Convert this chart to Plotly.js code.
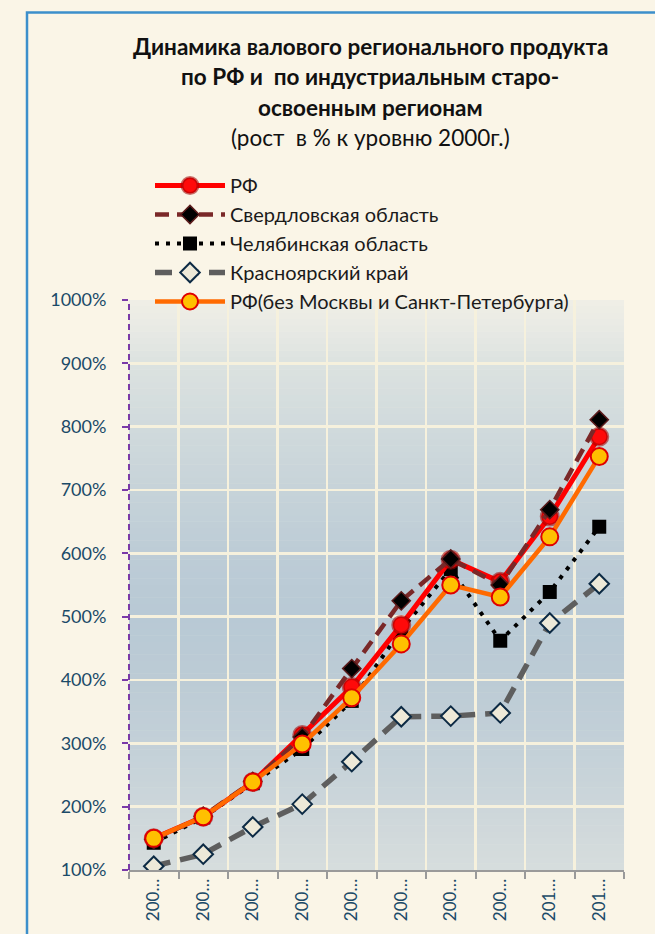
<!DOCTYPE html>
<html>
<head>
<meta charset="utf-8">
<script src="https://cdn.plot.ly/plotly-3.0.1.min.js"></script>
<style>
html,body{margin:0;padding:0;background:#FAF5E7;}
#chart{width:655px;height:934px;}
</style>
</head>
<body>
<div id="chart"></div>
<script>
// ---- data ----
const years = ['2002','2003','2004','2005','2006','2007','2008','2009','2010','2011'];
const tickLabels = ['200…','200…','200…','200…','200…','200…','200…','200…','201…','201…'];
const rf      = [150, 184, 239, 313, 389, 487, 590, 555, 658, 784];
const sverd   = [148, 185, 240, 310, 418, 525, 591, 550, 669, 811];
const chel    = [143, 183, 237, 291, 367, 479, 575, 462, 539, 642];
const krasn   = [106, 125, 168, 204, 271, 342, 343, 348, 490, 552];
const rfNoMsk = [150, 184, 239, 299, 372, 457, 550, 531, 626, 753];
const names = ['РФ','Свердловская область','Челябинская область','Красноярский край','РФ(без Москвы и Санкт-Петербурга)'];
const titleLines = ['<b>Динамика валового регионального продукта</b>','<b>по РФ и  по индустриальным старо-</b>','<b>освоенным регионам</b>','(рост  в % к уровню 2000г.)'];

const FONT = 'Lato, "Noto Sans", sans-serif';
const TEAL = '#1B4A68';

const traces = [
  {x: years, y: krasn, name: names[3], legendrank: 4, mode: 'lines+markers',
   line: {color: '#5E5E5E', width: 5.5, dash: '17px,10px'},
   marker: {symbol: 'diamond', size: 15, color: '#EDE9D8', line: {color: '#0C2A44', width: 2}}},
  {x: years, y: chel, name: names[2], legendrank: 3, mode: 'lines+markers',
   line: {color: '#000000', width: 4, dash: '4px,7px'},
   marker: {symbol: 'square', size: 14, color: '#000000'}},
  {x: years, y: rf, name: names[0], legendrank: 1, mode: 'lines+markers',
   line: {color: '#FF0000', width: 5},
   marker: {symbol: 'circle', size: 17, color: '#FF0A0A', line: {color: 'rgba(160,0,0,0.55)', width: 3}}},
  {x: years, y: sverd, name: names[1], legendrank: 2, mode: 'lines+markers',
   line: {color: '#7A2828', width: 4.5, dash: '14px,8px'},
   marker: {symbol: 'diamond', size: 14, color: '#000000', line: {color: '#5A1A1A', width: 1.5}}},
  {x: years, y: rfNoMsk, name: names[4], legendrank: 5, mode: 'lines+markers',
   line: {color: '#FF6A00', width: 4.5},
   marker: {symbol: 'circle', size: 17, color: '#FFC000', line: {color: '#E00000', width: 2}}}
];

// background gradient bands (decoration)
const stops = [[100,[214,221,221]],[200,[204,214,218]],[300,[195,208,216]],[400,[188,203,213]],[500,[184,201,213]],[600,[189,204,214]],[700,[198,211,217]],[800,[208,218,220]],[900,[220,226,224]],[950,[231,233,228]],[1000,[240,239,230]]];
function colAt(v){
  for(let i=0;i<stops.length-1;i++){
    const a=stops[i], b=stops[i+1];
    if(v>=a[0] && v<=b[0]){
      const t=(v-a[0])/(b[0]-a[0]);
      const c=a[1].map((c0,k)=>Math.round(c0+(b[1][k]-c0)*t));
      return 'rgb('+c.join(',')+')';
    }
  }
  return 'rgb(240,239,230)';
}
const shapes = [];
for(let v=100; v<1000; v+=10){
  shapes.push({type:'rect', xref:'paper', yref:'y', x0:0, x1:1, y0:v, y1:v+10.5,
    fillcolor: colAt(v+5), line:{width:0}, layer:'below'});
}
// dashed purple y axis line
shapes.push({type:'line', xref:'paper', yref:'y', x0:0, x1:0, y0:100, y1:1000,
  line:{color:'#7A3AA8', width:2, dash:'6px,4px'}, layer:'above'});
// blue outer frame
shapes.push({type:'rect', xref:'paper', yref:'paper', x0:(27-129)/495, x1:(662-129)/495,
  y0:(870-945)/570, y1:(870-12.5)/570, line:{color:'#3C8FCB', width:2.5}, fillcolor:'rgba(0,0,0,0)', layer:'above'});

const titleY = [47, 77, 107, 137];
const annotations = titleLines.map((t,i)=>({
  text: t, xref:'paper', yref:'paper', x:(370-129)/495, y:(870-titleY[i])/570,
  xanchor:'center', yanchor:'middle', showarrow:false,
  font:{family:FONT, size:22.5, color:'#111111'}
}));

const layout = {
  width: 655, height: 934,
  margin: {l:129, r:31, t:300, b:64},
  paper_bgcolor: '#FAF5E7',
  plot_bgcolor: 'rgba(0,0,0,0)',
  showlegend: true,
  legend: {x:(150-129)/495, y:(870-166)/570, xanchor:'left', yanchor:'top',
    bgcolor:'rgba(0,0,0,0)', font:{family:FONT, size:20, color:'#1A1A1A'},
    itemwidth: 70, tracegroupgap: 0, traceorder:'normal'},
  xaxis: {type:'category', tickvals: years, ticktext: tickLabels, tickangle: -90,
    tickson:'boundaries', ticks:'outside', ticklen:7, tickwidth:2, tickcolor:'#9A9A9A',
    showline:true, linecolor:'#9A9A9A', linewidth:2,
    showgrid:true, gridcolor:'#F6F1DD', gridwidth:2.5,
    tickfont:{family:FONT, size:17, color:TEAL}, range:[-0.5, 9.5], fixedrange:true},
  yaxis: {range:[100,1000], dtick:100, tick0:100, ticksuffix:'%',
    ticks:'outside', ticklen:6, tickwidth:2, tickcolor:'#7A3AA8',
    showline:false, showgrid:true, gridcolor:'#F6F1DD', gridwidth:2.5, zeroline:false,
    tickfont:{family:FONT, size:18, color:TEAL}, ticklabelstandoff: 12, fixedrange:true},
  shapes: shapes,
  annotations: annotations
};

Plotly.newPlot('chart', traces, layout, {displayModeBar:false, staticPlot:true});
</script>
</body>
</html>
